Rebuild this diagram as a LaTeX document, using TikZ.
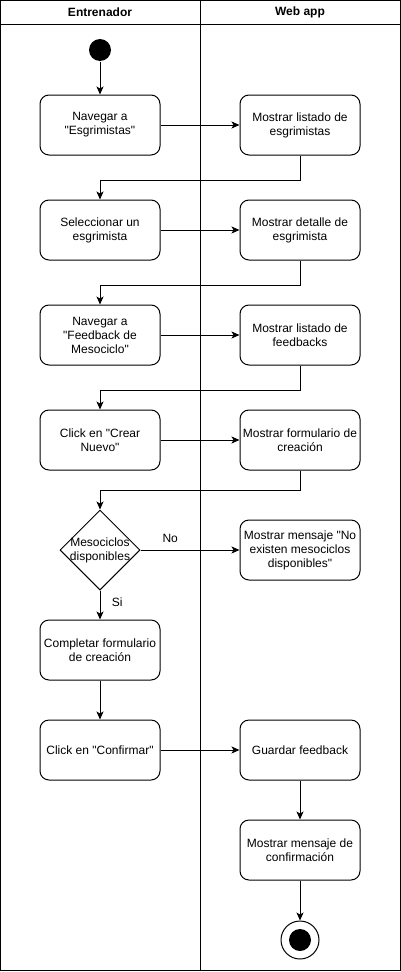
\documentclass[tikz,border=0pt]{standalone}
\usepackage{fontspec}
\setmainfont{Liberation Sans}
\usetikzlibrary{positioning, arrows.meta, shapes.geometric, calc}
\newcommand{\dq}{\textquotedbl}

\begin{document}
\begin{tikzpicture}[
  x=1pt, y=-1pt,
  line width=1pt,
  box/.style={draw, rounded corners=9pt, align=center, minimum width=120pt, minimum height=60pt, inner sep=2pt},
  decision/.style={draw, diamond, minimum width=80pt, minimum height=80pt, inner sep=0pt},
  arrow/.style={-{Stealth[length=8pt, width=7pt, inset=2pt]}},
  lane/.style={font=\fontsize{12}{14}\selectfont\bfseries},
  every node/.style={font=\fontsize{12}{14}\selectfont}
]
\useasboundingbox (0,0) rectangle (401,972);

% swimlanes
\draw (0.5,0.5) rectangle (400,970);
\draw (0.5,24) -- (400,24);
\draw (200,0.5) -- (200,970);
\node[lane] (laneA) at (100,12) {Entrenador};
\node[lane] (laneB) at (300,12) {Web app};

% trainer lane
\node[circle, fill=black, minimum size=22pt, inner sep=0pt] (start) at (100,50) {};
\node[box] (nav) at (100,125) {Navegar a\\\dq Esgrimistas\dq};
\node[box] (sel) at (100,230) {Seleccionar un\\esgrimista};
\node[box] (navfb) at (100,335) {Navegar a\\\dq Feedback de\\Mesociclo\dq};
\node[box] (crear) at (100,440) {Click en \dq Crear\\Nuevo\dq};
\node[decision] (dec) at (100,550) {};
\node[align=center] (dectext) at (dec) {Mesociclos\\disponibles};
\node[box] (compl) at (100,650) {Completar formulario\\de creación};
\node[box] (conf) at (100,750) {Click en \dq Confirmar\dq};

% web app lane
\node[box] (lista) at (300,125) {Mostrar listado de\\esgrimistas};
\node[box] (detalle) at (300,230) {Mostrar detalle de\\esgrimista};
\node[box] (listafb) at (300,335) {Mostrar listado de\\feedbacks};
\node[box] (form) at (300,440) {Mostrar formulario de\\creación};
\node[box] (nomeso) at (300,550) {Mostrar mensaje \dq No\\existen mesociclos\\disponibles\dq};
\node[box] (guardar) at (300,750) {Guardar feedback};
\node[box] (msgconf) at (300,850) {Mostrar mensaje de\\confirmación};
\node[circle, draw, minimum size=38pt, inner sep=0pt] (fin) at (300,940) {};
\node[circle, fill=black, minimum size=22pt, inner sep=0pt] (finin) at (fin) {};

\draw[arrow] (start) -- (nav);
\draw[arrow] (nav) -- (lista);
\draw[arrow] (lista.south) -- ++(0,25) -| (sel.north);
\draw[arrow] (sel) -- (detalle);
\draw[arrow] (detalle.south) -- ++(0,25) -| (navfb.north);
\draw[arrow] (navfb) -- (listafb);
\draw[arrow] (listafb.south) -- ++(0,25) -| (crear.north);
\draw[arrow] (crear) -- (form);
\draw[arrow] (form.south) -- ++(0,20) -| (dec.north);
\draw[arrow] (dec.east) -- node[pos=0.3, above=4pt] (lblno) {No} (nomeso.west);
\draw[arrow] (dec.south) -- node[pos=0.4, right=8pt] (lblsi) {Si} (compl.north);
\draw[arrow] (compl) -- (conf);
\draw[arrow] (conf) -- (guardar);
\draw[arrow] (guardar) -- (msgconf);
\draw[arrow] (msgconf) -- (fin);

\end{tikzpicture}
\end{document}
